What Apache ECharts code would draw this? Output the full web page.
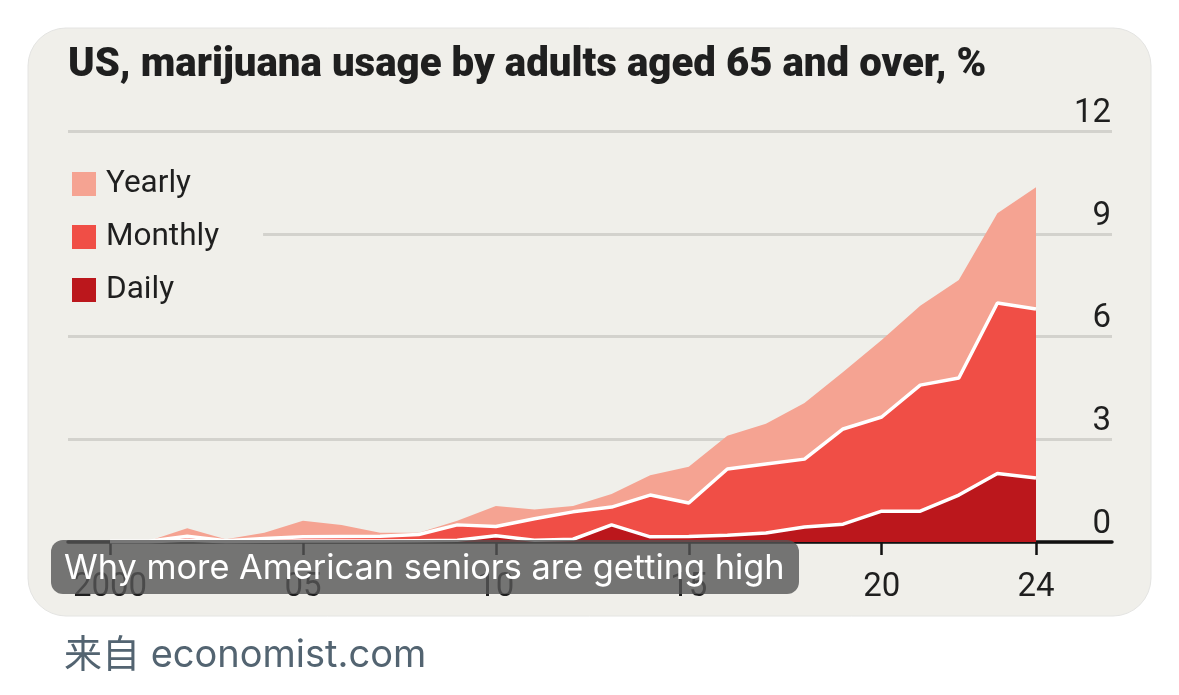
<!DOCTYPE html>
<html><head><meta charset="utf-8">
<style>html,body{margin:0;padding:0;background:#fff}#c{width:1179px;height:695px}</style>
<script src="https://cdn.jsdelivr.net/npm/echarts@6/dist/echarts.min.js"></script>
</head><body><div id="c"></div>
<script>
const years = [2000,2001,2002,2003,2004,2005,2006,2007,2008,2009,2010,2011,2012,2013,2014,2015,2016,2017,2018,2019,2020,2021,2022,2023,2024];
const dailyValues = [0.01,0.01,0.05,0.01,0.02,0.03,0.03,0.03,0.04,0.05,0.18,0.05,0.08,0.5,0.15,0.16,0.2,0.26,0.44,0.52,0.9,0.9,1.37,2.0,1.87];
const monthlyValues = [0.02,0.02,0.17,0.04,0.1,0.15,0.16,0.17,0.22,0.5,0.45,0.68,0.88,1.02,1.37,1.14,2.13,2.28,2.42,3.3,3.65,4.58,4.79,6.98,6.8];
const yearlyValues = [0.03,0.03,0.4,0.08,0.27,0.62,0.5,0.27,0.27,0.62,1.05,0.95,1.05,1.4,1.95,2.2,3.1,3.45,4.06,4.96,5.9,6.9,7.65,9.6,10.36];
const yTicks = [0,3,6,9,12];
const xTicks = [2000,2005,2010,2015,2020,2024];
const xTickLabels = ['2000','05','10','15','20','24'];
const seriesNames = ['Yearly','Monthly','Daily'];
const colors = ['#F5A392','#F04E46','#BB171C'];
const narrow = 'Roboto,"Liberation Sans",sans-serif';
const pairs = v => years.map((y,i)=>[y,v[i]]);
const chart = echarts.init(document.getElementById('c'),null,{renderer:'canvas'});
chart.setOption({
  animation:false,
  backgroundColor:'#fff',
  title:{text:'US, marijuana usage by adults aged 65 and over, %',left:63,top:41,
    textStyle:{fontFamily:narrow,fontWeight:900,fontSize:40.2,color:'#1f1f1f'}},
  legend:{left:68,top:160,orient:'vertical',itemWidth:24,itemHeight:24,itemGap:21,
    padding:[8,44,8,4],backgroundColor:'#F0EFEA',icon:'rect',
    data:seriesNames,selectedMode:false,
    textStyle:{fontFamily:narrow,fontSize:31.5,lineHeight:32,color:'#1f1f1f',padding:[0,0,0,5]}},
  grid:{left:68,right:67,top:131,bottom:153},
  xAxis:{type:'value',min:1998.91,max:2025.97,
    splitLine:{show:false},
    axisLine:{show:true,onZero:false,lineStyle:{color:'#111',width:3.5}},
    axisTick:{show:true,length:13,customValues:xTicks,lineStyle:{color:'#111',width:2.5}},
    axisLabel:{customValues:xTicks,margin:29,fontFamily:narrow,fontSize:33,color:'#1f1f1f',
      formatter:v=>xTickLabels[xTicks.indexOf(v)]}},
  yAxis:{type:'value',position:'right',min:0,max:12,interval:3,
    axisLine:{show:false},axisTick:{show:false},
    splitLine:{show:true,lineStyle:{color:'#D3D2CD',width:3}},
    axisLabel:{inside:true,align:'right',verticalAlign:'bottom',margin:1,padding:[0,0,1,0],fontFamily:narrow,fontSize:33,color:'#1f1f1f',
      customValues:yTicks}},
  series:[
    {name:'Yearly',type:'line',data:pairs(yearlyValues),symbol:'none',lineStyle:{width:0},itemStyle:{color:colors[0]},areaStyle:{color:colors[0],opacity:1},z:2},
    {name:'Monthly',type:'line',data:pairs(monthlyValues),symbol:'none',lineStyle:{width:3.5,color:'#fff'},itemStyle:{color:colors[1]},areaStyle:{color:colors[1],opacity:1},z:3},
    {name:'Daily',type:'line',data:pairs(dailyValues),symbol:'none',lineStyle:{width:3.5,color:'#fff'},itemStyle:{color:colors[2]},areaStyle:{color:colors[2],opacity:1},z:4}
  ],
  graphic:[
    {type:'rect',z:-10,silent:true,shape:{x:28,y:28,width:1123,height:588,r:38},style:{fill:'#F0EFEA',stroke:'#E4E4E2',lineWidth:1}},
    {type:'rect',z:100,silent:true,shape:{x:51,y:540,width:748,height:54,r:12},style:{fill:'rgba(85,85,85,0.8)'}},
    {type:'text',z:101,silent:true,x:64,y:569,style:{text:'Why more American seniors are getting high',fill:'#fff',font:'34.3px "Inter","Noto Sans",sans-serif',textVerticalAlign:'middle'}},
    {type:'text',z:101,silent:true,x:64,y:656,style:{text:'来自 economist.com',fill:'#536471',font:'38px "Inter","Noto Sans CJK SC",sans-serif',textVerticalAlign:'middle'}}
  ]
});
</script></body></html>
